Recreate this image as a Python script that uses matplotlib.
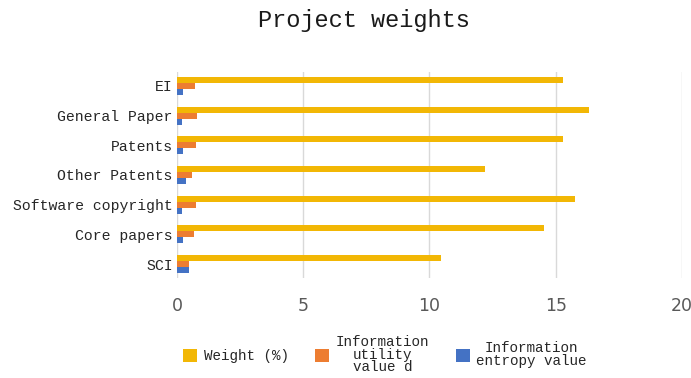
import matplotlib.pyplot as plt
import numpy as np

# indicators, listed bottom to top
categories = ['SCI', 'Core papers', 'Software copyright', 'Other Patents',
              'Patents', 'General Paper', 'EI']

weight = [10.45, 14.55, 15.75, 12.2, 15.3, 16.3, 15.3]          # Weight (%)
utility = [0.49, 0.69, 0.74, 0.58, 0.74, 0.78, 0.71]            # information utility value d
entropy = [0.46, 0.26, 0.21, 0.38, 0.24, 0.20, 0.24]            # information entropy value

series_labels = ['Weight (%)', 'Information\nutility\nvalue d',
                 'Information\nentropy value']
colors = ['#F2B705', '#ED7D31', '#4472C4']

mono = 'Liberation Mono'

fig = plt.figure(figsize=(6.91, 3.78), dpi=100)
ax = fig.add_axes([0.256, 0.2646, 0.731, 0.545])

y = np.arange(len(categories))
h = 0.2
for vals, off, c, lab in zip([weight, utility, entropy], [h, 0, -h], colors, series_labels):
    ax.barh(y + off, vals, height=h, color=c, label=lab, zorder=3)

ax.set_xlim(0, 20)
ax.set_ylim(-0.47, 6.47)
ax.set_xticks([0, 5, 10, 15, 20])
ax.set_yticks(y)
ax.set_yticklabels(categories, fontfamily=mono, fontsize=10.6, color='#262626')
ax.tick_params(axis='y', length=0, pad=3)
ax.tick_params(axis='x', length=0, pad=14, labelsize=12.5, labelcolor='#595959')
ax.grid(axis='x', color='#d9d9d9', linewidth=1, zorder=0)
for s in ax.spines.values():
    s.set_visible(False)

fig.text(0.527, 0.947, 'Project weights', ha='center', va='center',
         fontfamily=mono, fontsize=17, color='#1a1a1a')

leg = fig.legend(loc='center', bbox_to_anchor=(0.557, 0.062), ncol=3, frameon=False,
                 prop={'family': mono, 'size': 10.3}, handlelength=1.0, handleheight=1.0,
                 handletextpad=0.45, columnspacing=1.85)
for t in leg.get_texts():
    t.set_multialignment('center')
    t.set_linespacing(0.9)
    t.set_color('#262626')

fig.savefig('out.png', dpi=100)
